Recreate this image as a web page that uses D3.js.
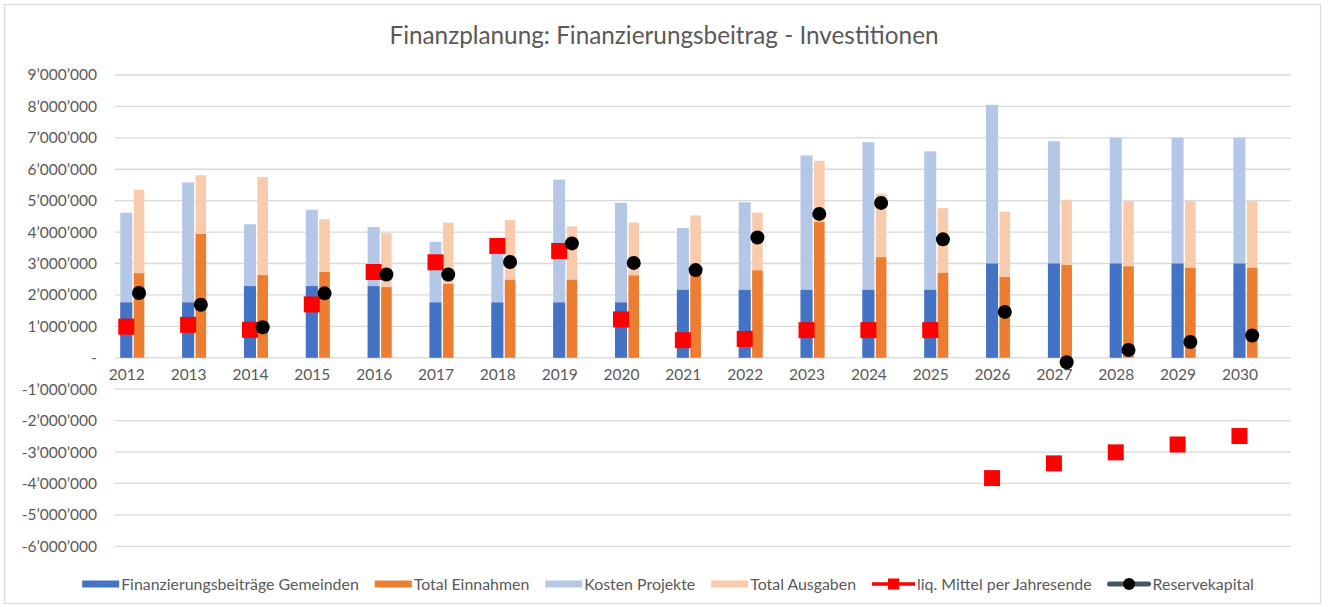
<!DOCTYPE html>
<html>
<head>
<meta charset="utf-8">
<script src="https://cdn.jsdelivr.net/npm/d3@7"></script>
<style>
  html, body { margin: 0; padding: 0; background: #fff; }
  svg { display: block; font-family: Lato, "Open Sans", sans-serif; }
</style>
</head>
<body>
<svg id="chart" width="1329" height="607"></svg>
<script>
// ---------------- data ----------------
const years = ["2012","2013","2014","2015","2016","2017","2018","2019","2020","2021","2022","2023","2024","2025","2026","2027","2028","2029","2030"];
const finanzierungsbeitraege = [1760000,1760000,2280000,2280000,2280000,1760000,1760000,1760000,1760000,2160000,2160000,2160000,2160000,2160000,3000000,3000000,3000000,3000000,3000000];
const totalEinnahmen = [2690000,3940000,2630000,2730000,2250000,2350000,2480000,2480000,2620000,2700000,2780000,4320000,3200000,2700000,2570000,2950000,2910000,2860000,2860000];
const kostenProjekte = [4620000,5580000,4250000,4710000,4160000,3690000,3500000,5670000,4930000,4130000,4950000,6440000,6860000,6570000,8050000,6890000,7000000,7000000,7000000];
const totalAusgaben = [5350000,5810000,5750000,4410000,3960000,4300000,4390000,4180000,4300000,4530000,4620000,6270000,5220000,4760000,4650000,5030000,4980000,4980000,4980000];
const liqMittel = [990000,1050000,890000,1700000,2730000,3040000,3560000,3400000,1220000,560000,600000,880000,880000,880000,-3830000,-3360000,-3010000,-2760000,-2490000];
const reservekapital = [2060000,1690000,970000,2050000,2650000,2650000,3050000,3640000,3020000,2790000,3830000,4580000,4930000,3770000,1460000,-140000,250000,500000,710000];
const yTicks = [9000000,8000000,7000000,6000000,5000000,4000000,3000000,2000000,1000000,0,-1000000,-2000000,-3000000,-4000000,-5000000,-6000000];
const titleText = "Finanzplanung: Finanzierungsbeitrag - Investitionen";
const legendLabels = ["Finanzierungsbeiträge Gemeinden","Total Einnahmen","Kosten Projekte","Total Ausgaben","liq. Mittel per Jahresende","Reservekapital"];

// ---------------- styles ----------------
const C = {
  blue: "#4472C4", orange: "#ED7D31", lightBlue: "#B4C7E7", lightOrange: "#F8CBAD",
  red: "#FF0000", black: "#000000", slate: "#44546A", grid: "#D9D9D9", text: "#595959"
};

const svg = d3.select("#chart");

// chart border
svg.append("rect").attr("x", 4.5).attr("y", 4.5).attr("width", 1316).attr("height", 599)
  .attr("fill", "#fff").attr("stroke", C.grid).attr("stroke-width", 1.2);

// scales
const plotLeft = 115, plotRight = 1291;
const y = d3.scaleLinear().domain([-6000000, 9000000]).range([546.3, 75]);
const x = d3.scaleBand().domain(years).range([102.1, 1277.1]).paddingInner(0).paddingOuter(0);
const bw = x.bandwidth();
const barW1 = bw * 0.194, barW2 = bw * 0.17, gap = bw * 0.024;
const center = d => x(d) + bw / 2;
const blueX = d => center(d) - gap / 2 - barW1;
const orangeX = d => center(d) + gap / 2;
const blueC = d => blueX(d) + barW1 / 2;
const orangeC = d => orangeX(d) + barW2 / 2;

// gridlines
svg.append("g").selectAll("line").data(yTicks).join("line")
  .attr("x1", plotLeft).attr("x2", plotRight)
  .attr("y1", d => y(d)).attr("y2", d => y(d))
  .attr("stroke", C.grid).attr("stroke-width", 1.3);

// y axis labels via d3 axis
const fmt = v => v === 0 ? "-" : d3.format(",")(v).replace(/,/g, "\u2019").replace("\u2212", "-");
const yAxis = d3.axisLeft(y).tickValues(yTicks).tickFormat(fmt).tickSize(0).tickPadding(0);
const gy = svg.append("g").attr("transform", "translate(97,0)").call(yAxis);
gy.select(".domain").remove();
gy.selectAll("text").attr("fill", C.text).style("font-size", "15.5px").style("font-family", "Lato, sans-serif");

// bars
const idx = years.map((d, i) => i);
const bars = svg.append("g");
bars.selectAll(".kp").data(idx).join("rect").attr("class", "kp")
  .attr("x", i => blueX(years[i])).attr("width", barW1)
  .attr("y", i => y(kostenProjekte[i])).attr("height", i => y(0) - y(kostenProjekte[i]))
  .attr("fill", C.lightBlue);
bars.selectAll(".fb").data(idx).join("rect").attr("class", "fb")
  .attr("x", i => blueX(years[i])).attr("width", barW1)
  .attr("y", i => y(finanzierungsbeitraege[i])).attr("height", i => y(0) - y(finanzierungsbeitraege[i]))
  .attr("fill", C.blue);
bars.selectAll(".ta").data(idx).join("rect").attr("class", "ta")
  .attr("x", i => orangeX(years[i])).attr("width", barW2)
  .attr("y", i => y(totalAusgaben[i])).attr("height", i => y(0) - y(totalAusgaben[i]))
  .attr("fill", C.lightOrange);
bars.selectAll(".te").data(idx).join("rect").attr("class", "te")
  .attr("x", i => orangeX(years[i])).attr("width", barW2)
  .attr("y", i => y(totalEinnahmen[i])).attr("height", i => y(0) - y(totalEinnahmen[i]))
  .attr("fill", C.orange);

// x axis labels
const xAxis = d3.axisBottom(x).tickSize(0).tickPadding(0).tickFormat(d => d);
const gx = svg.append("g").attr("transform", `translate(0,${y(0) + 17})`).call(xAxis);
gx.select(".domain").remove();
gx.selectAll(".tick").attr("transform", d => `translate(${blueC(d) + 0.5},0)`);
gx.selectAll("text").attr("fill", C.text).style("font-size", "15.5px").style("font-family", "Lato, sans-serif").attr("dy", "0.35em");

// markers
const sq = 16;
svg.append("g").selectAll("rect").data(idx).join("rect")
  .attr("x", i => blueC(years[i]) - sq / 2).attr("y", i => y(liqMittel[i]) - sq / 2)
  .attr("width", sq).attr("height", sq).attr("fill", C.red);
svg.append("g").selectAll("circle").data(idx).join("circle")
  .attr("cx", i => orangeC(years[i])).attr("cy", i => y(reservekapital[i]))
  .attr("r", 7).attr("fill", C.black);

// title
svg.append("text").attr("x", 664).attr("y", 44).attr("text-anchor", "middle")
  .attr("fill", C.text).style("font-size", "24.3px").style("font-family", "Lato, sans-serif")
  .text(titleText);

// legend
const lg = svg.append("g").attr("class", "legend");
const ly = 584;
const kinds = ["bar","bar","bar","bar","sq","dot"];
const lcolors = [C.blue, C.orange, C.lightBlue, C.lightOrange, C.red, C.slate];
let cx = 0;
const items = [];
legendLabels.forEach((lab, i) => {
  const g = lg.append("g");
  const sw = kinds[i] === "bar" ? 37 : 43;
  if (kinds[i] === "bar") {
    g.append("rect").attr("x", 0).attr("y", -3.5).attr("width", sw).attr("height", 7).attr("fill", lcolors[i]);
  } else if (kinds[i] === "sq") {
    g.append("line").attr("x1", 0).attr("x2", sw).attr("y1", 0).attr("y2", 0).attr("stroke", C.red).attr("stroke-width", 3.5);
    g.append("rect").attr("x", sw / 2 - 5.5).attr("y", -5.5).attr("width", 11).attr("height", 11).attr("fill", C.red);
  } else {
    g.append("line").attr("x1", 2).attr("x2", sw - 2).attr("y1", 0).attr("y2", 0).attr("stroke", C.slate).attr("stroke-width", 5).attr("stroke-linecap", "round");
    g.append("circle").attr("cx", sw / 2).attr("cy", 0).attr("r", 6).attr("fill", C.black);
  }
  const t = g.append("text").attr("x", sw + 2).attr("y", 0).attr("dy", "0.35em")
    .attr("fill", C.text).style("font-size", "15.9px").style("font-family", "Lato, sans-serif").text(lab);
  const w = sw + 2 + t.node().getComputedTextLength();
  items.push({ g, x: cx });
  cx += w + 16;
});
const totalW = cx - 16;
const start = 668 - totalW / 2;
items.forEach(it => it.g.attr("transform", `translate(${start + it.x},${ly})`));
</script>
</body>
</html>
